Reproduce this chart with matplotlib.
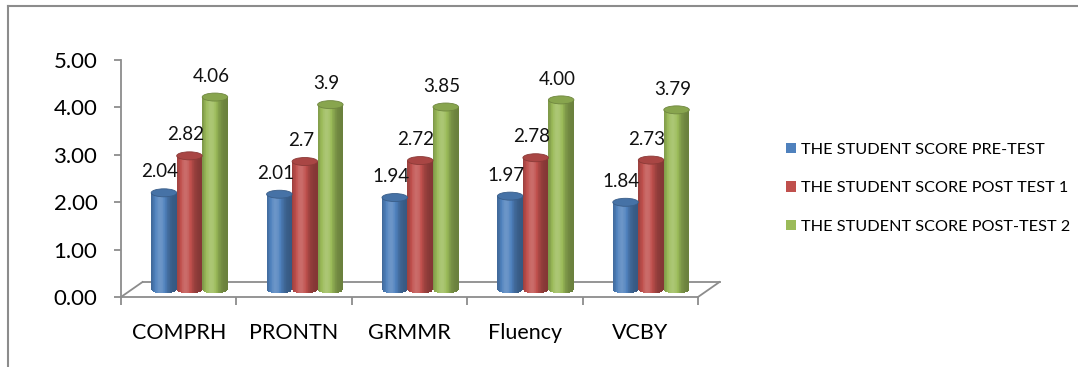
import matplotlib
matplotlib.use("Agg")
import matplotlib.pyplot as plt
import matplotlib.transforms as mtransforms
from matplotlib.lines import Line2D
from matplotlib.patches import Ellipse, Patch
from matplotlib.colors import to_rgb
import numpy as np

categories = ["COMPRH", "PRONTN", "GRMMR", "Fluency", "VCBY"]
pre_test = [2.04, 2.01, 1.94, 1.97, 1.84]
post_test_1 = [2.82, 2.70, 2.72, 2.78, 2.73]
post_test_2 = [4.06, 3.90, 3.85, 4.00, 3.79]
pre_labels = ["2.04", "2.01", "1.94", "1.97", "1.84"]
post1_labels = ["2.82", "2.7", "2.72", "2.78", "2.73"]
post2_labels = ["4.06", "3.9", "3.85", "4.00", "3.79"]
series_names = ["THE STUDENT SCORE PRE-TEST",
                "THE STUDENT SCORE POST TEST 1",
                "THE STUDENT SCORE POST-TEST 2"]
series_colors = ["#4F81BD", "#C0504D", "#9BBB59"]

plt.rcParams["font.family"] = ["Lato", "DejaVu Sans"]

W, H, DPI = 1078, 367, 100
fig = plt.figure(figsize=(W / DPI, H / DPI), dpi=DPI)
fig.patch.set_facecolor("white")

# plot area in pixels: x 121..698, y 297 (0.00) .. 60 (5.00)
ax = fig.add_axes([121 / W, (H - 297) / H, 577 / W, 237 / H])
ax.set_xlim(-0.5, 4.5)
ax.set_ylim(0, 5)
ax.patch.set_alpha(0)

grey = "#8c8c8c"
for s in ("top", "right"):
    ax.spines[s].set_visible(False)
for s in ("left", "bottom"):
    ax.spines[s].set_color(grey)
    ax.spines[s].set_linewidth(1.3)

ax.set_yticks(np.arange(0, 6))
ax.set_yticklabels([f"{v:.2f}" for v in range(6)])
ax.tick_params(axis="y", length=5, width=1.3, color=grey, pad=12, labelsize=16)
ax.set_xticks(np.arange(-0.5, 5, 1.0))
ax.set_xticklabels([])
ax.set_xticks(np.arange(5), minor=True)
ax.set_xticklabels(categories, minor=True)
ax.tick_params(axis="x", which="major", length=6, width=1.3, color=grey)
ax.tick_params(axis="x", which="minor", length=0, pad=19, labelsize=15.5)

# pseudo-3D depth: floor back edge and half-depth for the cylinders
back = ax.transData + mtransforms.ScaledTranslation(21.5 / DPI, 15 / DPI, fig.dpi_scale_trans)
mid = ax.transData + mtransforms.ScaledTranslation(10.75 / DPI, 7.5 / DPI, fig.dpi_scale_trans)

ax.plot([-0.5, 4.5], [0, 0], color=grey, lw=1.3, transform=back, clip_on=False)
for xe in (-0.5, 4.5):
    p0 = ax.transData.transform((xe, 0))
    p1 = back.transform((xe, 0))
    ax.add_line(Line2D([p0[0], p1[0]], [p0[1], p1[1]], color=grey, lw=1.3,
                       transform=None, clip_on=False))

bar_w = 0.221
cap_b = 4 / 47.4  # semi-minor axis of the cylinder ends, in data units


def shade(rgb, u):
    k = 0.68 + 0.48 * np.exp(-((u + 0.3) / 0.6) ** 2)
    c = np.array(rgb) * min(k, 1.0)
    if k > 1.0:
        c = c + (1 - c) * (k - 1.0)
    return np.clip(c, 0, 1)


def cylinder(xc, value, color):
    rgb = to_rgb(color)
    n = 36
    edges = np.linspace(-1, 1, n + 1)
    u = (edges[:-1] + edges[1:]) / 2
    xs = xc + u * bar_w / 2
    depth = cap_b * np.sqrt(1 - u ** 2)
    ax.bar(xs, value + depth, width=bar_w / n * 1.05, bottom=-depth,
           color=[shade(rgb, ui) for ui in u], linewidth=0,
           transform=mid, clip_on=False, zorder=3)
    cap = Ellipse((xc, value), bar_w, 2 * cap_b, transform=mid,
                  facecolor=np.array(rgb) * 0.88, edgecolor=np.array(rgb) * 0.72,
                  lw=0.6, clip_on=False, zorder=4)
    ax.add_patch(cap)


x = np.arange(len(categories))
groups = [(pre_test, pre_labels), (post_test_1, post1_labels), (post_test_2, post2_labels)]
for i, ((vals, labels), col) in enumerate(zip(groups, series_colors)):
    offs = (i - 1) * bar_w
    for xi, v, lab in zip(x, vals, labels):
        cylinder(xi + offs, v, col)
        ax.annotate(lab, xy=(xi + offs, v), xycoords=mid,
                    xytext=(-3, 15), textcoords="offset points",
                    ha="center", va="center", fontsize=13.5, color="#111111",
                    zorder=5, annotation_clip=False)

handles = [Patch(facecolor=c, edgecolor="none") for c in series_colors]
fig.legend(handles, series_names, loc="upper left",
           bbox_to_anchor=(786 / W, 1 - 143 / H), frameon=False,
           fontsize=11.7, handlelength=0.6, handleheight=0.6,
           handletextpad=0.35, labelspacing=1.5, borderpad=0, borderaxespad=0)

# chart border
fig.add_artist(Line2D([8 / W, 1], [1 - 6 / H, 1 - 6 / H], color=grey, lw=1.5,
                      transform=fig.transFigure))
fig.add_artist(Line2D([8 / W, 8 / W], [0, 1 - 6 / H], color=grey, lw=1.5,
                      transform=fig.transFigure))

fig.savefig("out.png", dpi=DPI)
